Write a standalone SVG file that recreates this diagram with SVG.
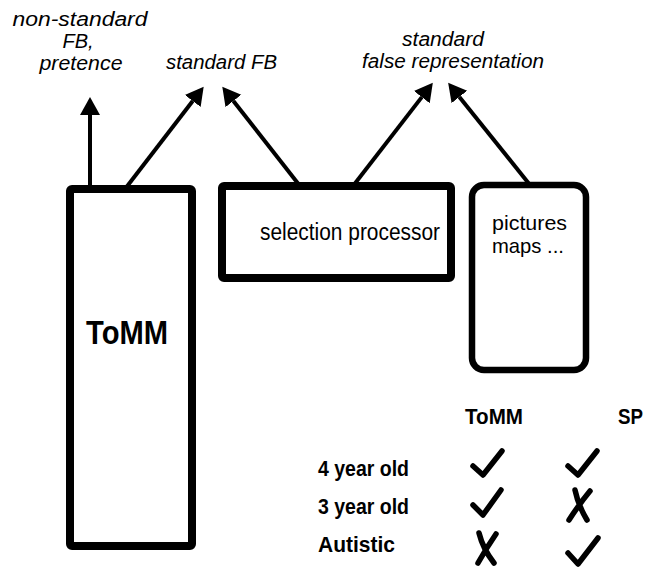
<svg xmlns="http://www.w3.org/2000/svg" width="646" height="570" viewBox="0 0 646 570">
<style>
.box{fill:#fff;stroke:#000;stroke-width:8}
.it{font-family:"Liberation Sans",Arial,sans-serif;font-style:italic;font-size:20px;fill:#000}
.rg{font-family:"Liberation Sans",Arial,sans-serif;font-size:21px;fill:#000}
.bd{font-family:"Liberation Sans",Arial,sans-serif;font-weight:bold;font-size:22px;fill:#000}
.con{stroke:#000;stroke-width:4;fill:none;marker-end:url(#ah)}
.mk{stroke:#000;stroke-width:5.5;fill:none;stroke-linecap:round;stroke-linejoin:round}
</style>
<defs>
<marker id="ah" markerUnits="userSpaceOnUse" markerWidth="20" markerHeight="22" viewBox="0 -11 20 22" refX="0" refY="0" orient="auto">
<path d="M0,-10 L18,0 L0,10 z" fill="#000"/>
</marker>
</defs>
<rect width="646" height="570" fill="#fff"/>
<g id="connectors">
<line class="con" x1="90" y1="189" x2="90" y2="115"/>
<line class="con" x1="125" y1="189" x2="192.7" y2="101"/>
<line class="con" x1="300" y1="186" x2="233.4" y2="101"/>
<line class="con" x1="353" y1="186" x2="421.8" y2="97.1"/>
<line class="con" x1="530" y1="185" x2="459.4" y2="96.9"/>
</g>
<g id="tomm">
<rect class="box" x="70" y="189" width="122" height="357" rx="2"/>
<text class="bd" x="127" y="344" text-anchor="middle" style="font-size:33px" textLength="82" lengthAdjust="spacingAndGlyphs">ToMM</text>
</g>
<g id="selection-processor">
<rect class="box" x="222" y="186" width="229" height="92" rx="2"/>
<text class="rg" x="260" y="240" style="font-size:23px" textLength="180" lengthAdjust="spacingAndGlyphs">selection processor</text>
</g>
<g id="pictures">
<rect class="box" x="472" y="185" width="114" height="185" rx="12" style="stroke-width:6.5"/>
<text class="rg" x="492" y="230" textLength="75" lengthAdjust="spacingAndGlyphs">pictures</text>
<text class="rg" x="492" y="253" textLength="72" lengthAdjust="spacingAndGlyphs">maps ...</text>
</g>
<g id="label-nonstandard">
<text class="it" x="80" y="26" text-anchor="middle" textLength="135" lengthAdjust="spacingAndGlyphs">non-standard</text>
<text class="it" x="78" y="48" text-anchor="middle">FB,</text>
<text class="it" x="81" y="70" text-anchor="middle" textLength="83" lengthAdjust="spacingAndGlyphs">pretence</text>
</g>
<g id="label-standardfb">
<text class="it" x="166" y="69" textLength="111" lengthAdjust="spacingAndGlyphs">standard FB</text>
</g>
<g id="label-standardfr">
<text class="it" x="443" y="46" text-anchor="middle" textLength="82" lengthAdjust="spacingAndGlyphs">standard</text>
<text class="it" x="453" y="68" text-anchor="middle" textLength="182" lengthAdjust="spacingAndGlyphs">false representation</text>
</g>
<g id="table">
<text class="bd" x="465" y="424" textLength="58" lengthAdjust="spacingAndGlyphs">ToMM</text>
<text class="bd" x="618" y="424" textLength="25" lengthAdjust="spacingAndGlyphs">SP</text>
<text class="bd" x="318" y="476" textLength="91" lengthAdjust="spacingAndGlyphs">4 year old</text>
<text class="bd" x="318" y="514" textLength="91" lengthAdjust="spacingAndGlyphs">3 year old</text>
<text class="bd" x="318" y="552" textLength="77" lengthAdjust="spacingAndGlyphs">Autistic</text>
<path class="mk" d="M473,466 L483,475 L502,451"/>
<path class="mk" d="M568,466 L578,475 L597,451"/>
<path class="mk" d="M473,505 L483,515 L501,490"/>
<path class="mk" d="M575,490 Q578,505 587,520 M590,491 Q580,503 569,520"/>
<path class="mk" d="M479,533 Q483,549 494,563 M496,534 Q487,547 478,563"/>
<path class="mk" d="M568,553 L578,564 L598,538"/>
</g>
</svg>
